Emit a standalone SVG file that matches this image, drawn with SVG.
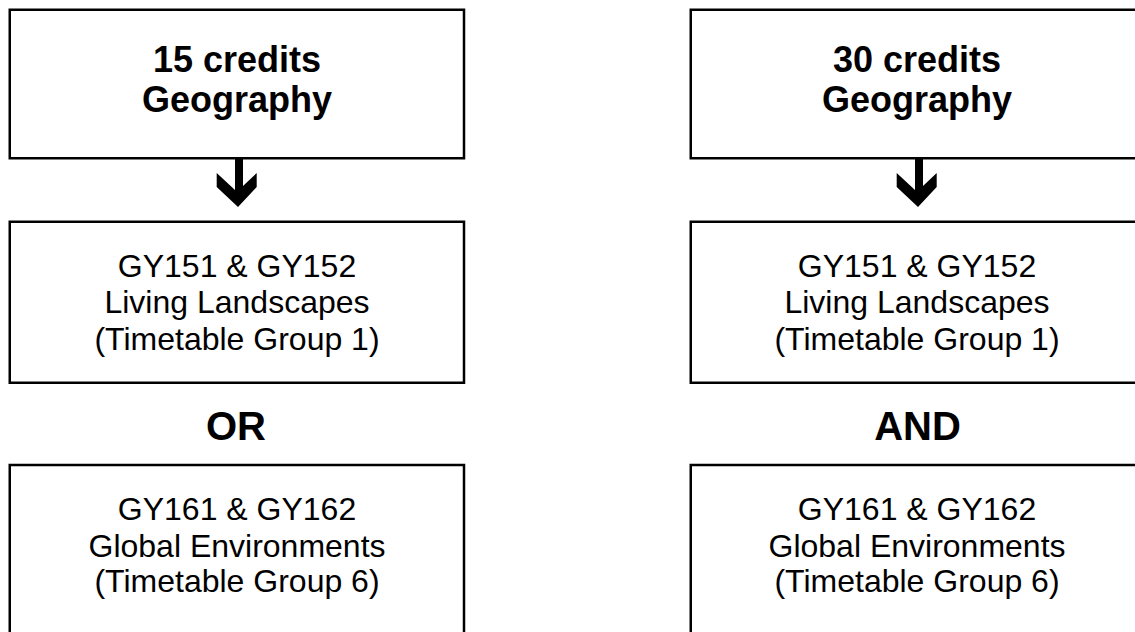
<svg xmlns="http://www.w3.org/2000/svg" width="1135" height="632" viewBox="0 0 1135 632">
<style>
.box{fill:#fff;stroke:#000;stroke-width:2.5}
.hd{font-family:"Liberation Sans",Arial,sans-serif;font-weight:bold;font-size:36px;text-anchor:middle;fill:#000}
.op{font-family:"Liberation Sans",Arial,sans-serif;font-weight:bold;font-size:40px;text-anchor:middle;fill:#000}
.tx{font-family:"Liberation Sans",Arial,sans-serif;font-size:32px;text-anchor:middle;fill:#000}
.arr{fill:#000}
</style>
<defs>
<path id="dn" d="M-2,0 H6 V28 L19.7,15 V29 L1,49 L-20.3,29 V15 L-2,32 Z"/>
</defs>
<rect width="1135" height="632" fill="#fff"/>
<g id="connectors">
<use href="#dn" class="arr" x="237" y="158"/>
<use href="#dn" class="arr" x="917" y="158"/>
</g>
<g id="n15">
<rect class="box" x="9.75" y="9.75" width="454.25" height="148.5"/>
<text class="hd" x="237" y="71.5">15 credits</text>
<text class="hd" x="237" y="111.5">Geography</text>
</g>
<g id="n30">
<rect class="box" x="690.75" y="9.75" width="454.25" height="148.5"/>
<text class="hd" x="917" y="71.5">30 credits</text>
<text class="hd" x="917" y="111.5">Geography</text>
</g>
<g id="lLiving">
<rect class="box" x="9.75" y="221.75" width="454.25" height="161"/>
<text class="tx" x="237" y="276.5">GY151 &amp; GY152</text>
<text class="tx" x="237" y="313.3">Living Landscapes</text>
<text class="tx" x="237" y="350">(Timetable Group 1)</text>
</g>
<g id="rLiving">
<rect class="box" x="690.75" y="221.75" width="454.25" height="161"/>
<text class="tx" x="917" y="276.5">GY151 &amp; GY152</text>
<text class="tx" x="917" y="313.3">Living Landscapes</text>
<text class="tx" x="917" y="350">(Timetable Group 1)</text>
</g>
<g id="or"><text class="op" x="236" y="439.5">OR</text></g>
<g id="and"><text class="op" x="917.5" y="439.5">AND</text></g>
<g id="lGlobal">
<rect class="box" x="9.75" y="465" width="454.25" height="200"/>
<text class="tx" x="237" y="520">GY161 &amp; GY162</text>
<text class="tx" x="237" y="556.7">Global Environments</text>
<text class="tx" x="237" y="592">(Timetable Group 6)</text>
</g>
<g id="rGlobal">
<rect class="box" x="690.75" y="465" width="454.25" height="200"/>
<text class="tx" x="917" y="520">GY161 &amp; GY162</text>
<text class="tx" x="917" y="556.7">Global Environments</text>
<text class="tx" x="917" y="592">(Timetable Group 6)</text>
</g>
</svg>
